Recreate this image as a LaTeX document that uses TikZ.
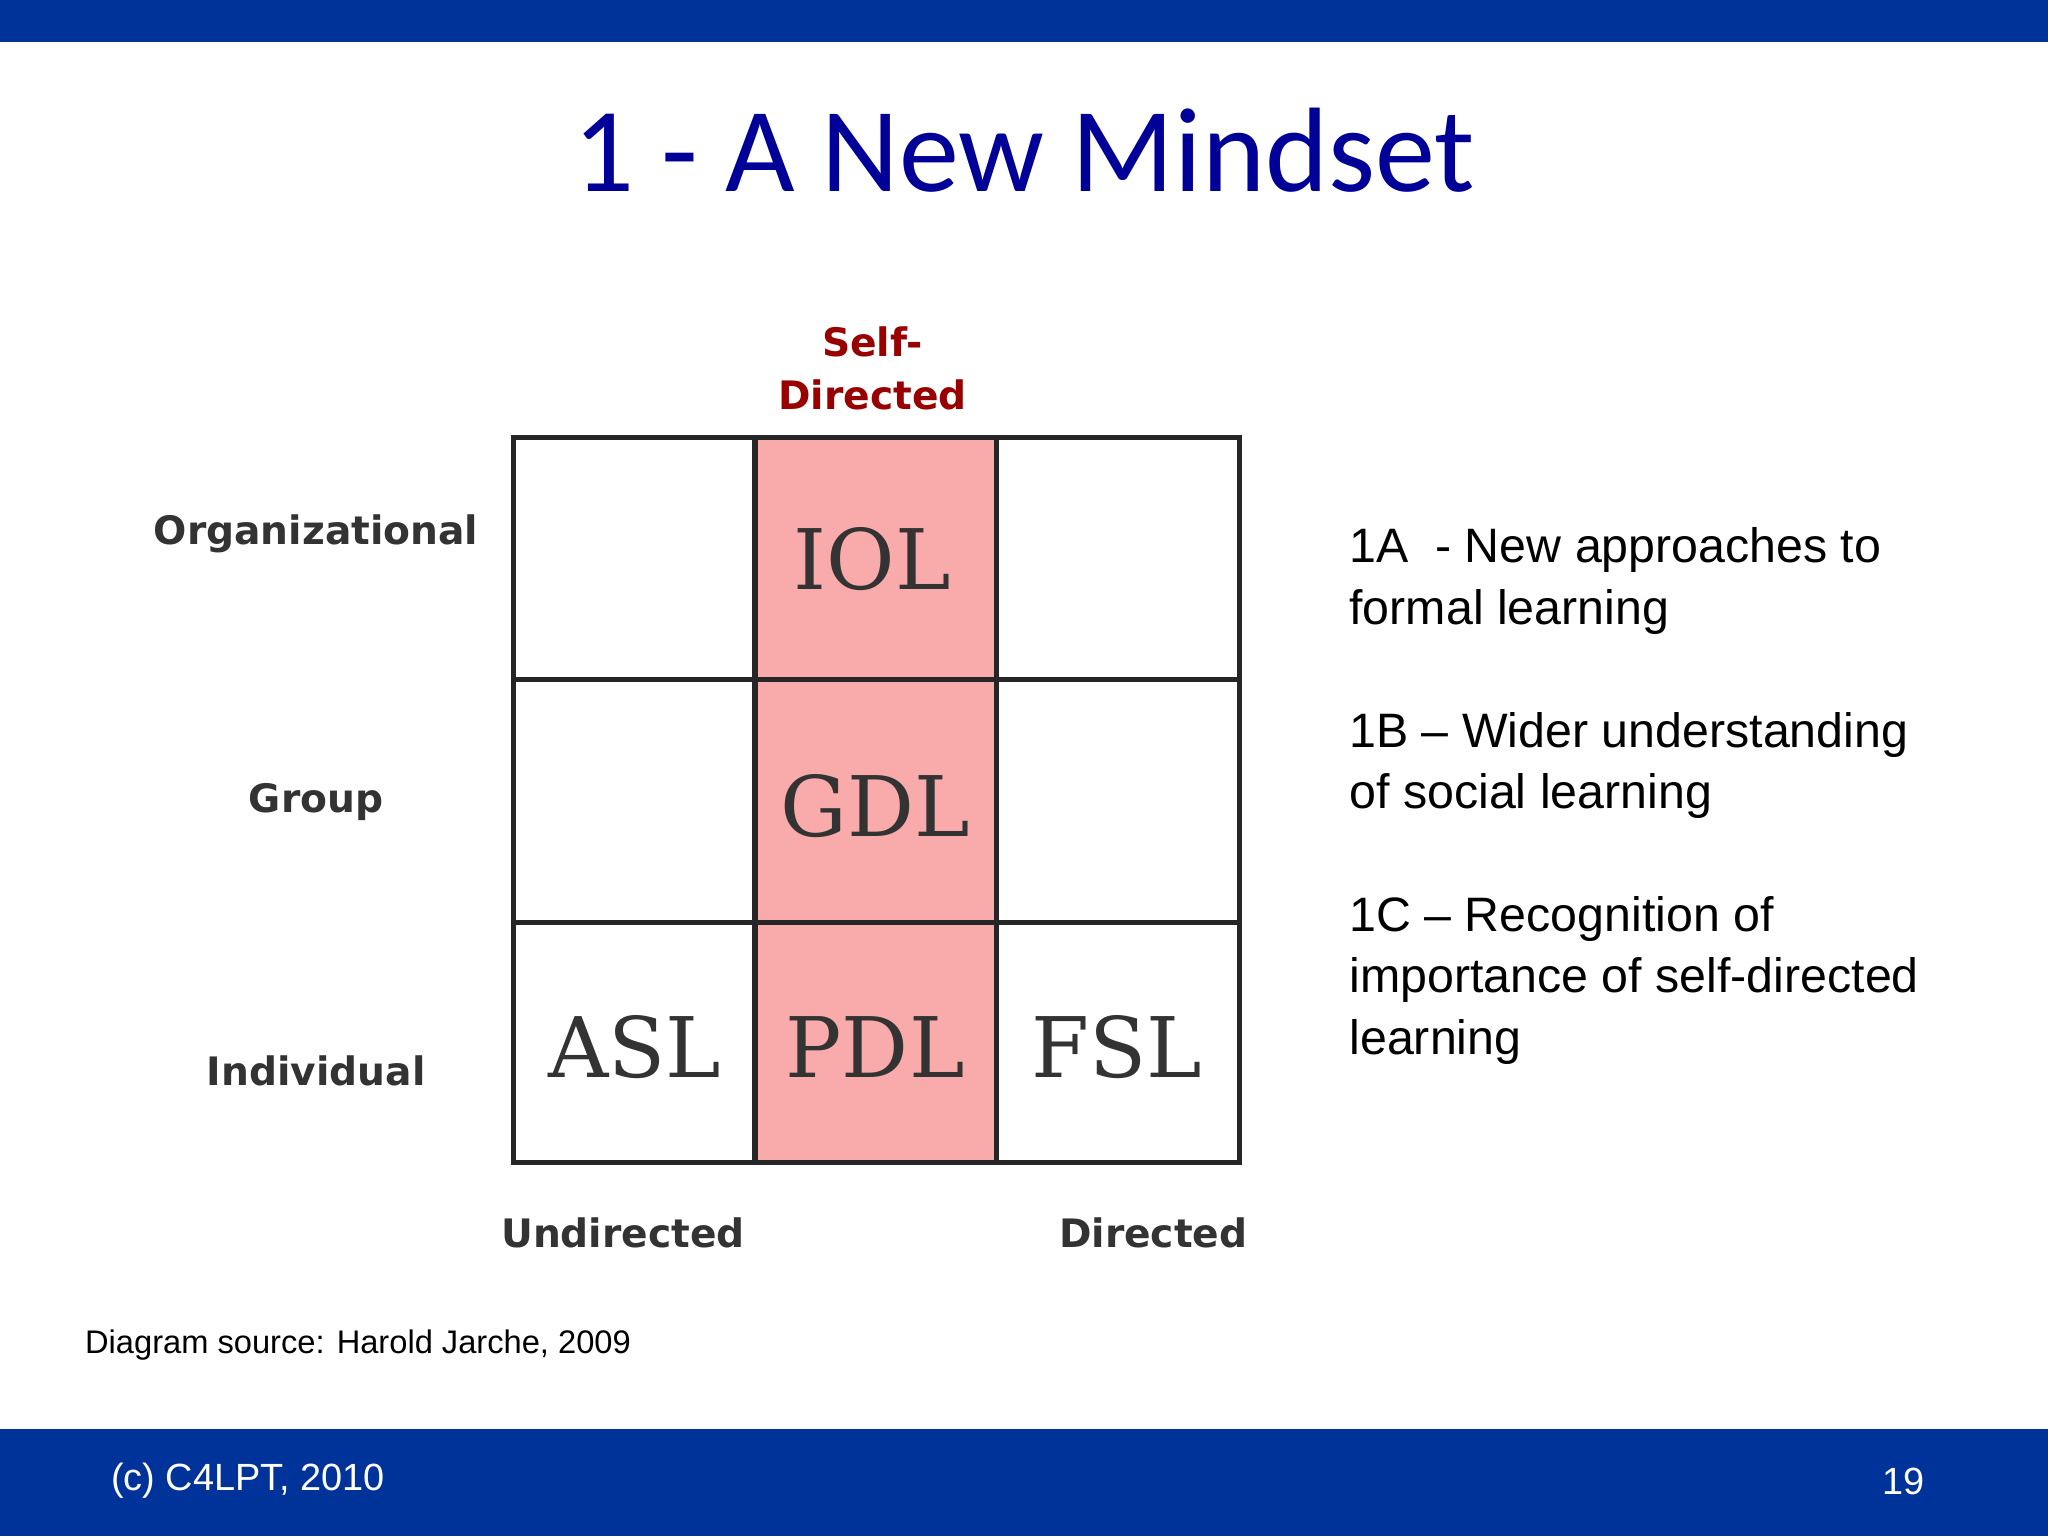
\documentclass[tikz,border=0pt]{standalone}
\usepackage{fontspec}
\setmainfont{Liberation Sans}
\newfontfamily\titlef{Carlito}
\newfontfamily\cellf{DejaVu Serif}
\newfontfamily\labf{DejaVu Sans}
\definecolor{barblue}{HTML}{003399}
\definecolor{titleblue}{HTML}{000099}
\definecolor{pinkc}{HTML}{F9AAAA}
\definecolor{dred}{HTML}{990000}
\definecolor{lgray}{HTML}{333333}
\begin{document}
\begin{tikzpicture}[x=1pt,y=-1pt,
  lab/.style={font=\labf\bfseries\fontsize{30}{36}\selectfont,text=lgray},
  cell/.style={font=\cellf\fontsize{64}{70}\selectfont,text=lgray},
  rt/.style={font=\fontsize{37}{47}\selectfont,anchor=north west,align=left,inner sep=0}]
\useasboundingbox (0,0) rectangle (1568,1176);
\fill[barblue] (0,0) rectangle (1568,32);
\fill[barblue] (0,1094) rectangle (1568,1176);
\node[font=\titlef\fontsize{92}{100}\selectfont,text=titleblue] (title) at (784,115) {1 - A New Mindset};
\fill[pinkc] (578,335) rectangle (763,890);
\draw[line width=4pt,draw=black!85] (393,335) rectangle (949,890);
\foreach \x in {578,763} \draw[line width=4pt,draw=black!85] (\x,335) -- (\x,890);
\foreach \y in {520,706} \draw[line width=4pt,draw=black!85] (393,\y) -- (949,\y);
\node[cell] (iol) at (668,428) {IOL};
\node[cell] (gdl) at (670,617) {GDL};
\node[cell] (asl) at (486,802) {ASL};
\node[cell] (pdl) at (670,802) {PDL};
\node[cell] (fsl) at (855,802) {FSL};
\node[lab,text=dred,align=center,font=\labf\bfseries\fontsize{30}{40}\selectfont] (sd) at (668,282) {Self-\\Directed};
\node[lab] (org) at (242,409) {Organizational};
\node[lab] (grp) at (242,614) {Group};
\node[lab] (ind) at (242,820) {Individual};
\node[lab] (und) at (477,944) {Undirected};
\node[lab] (dir) at (883,944) {Directed};
\node[rt] (a) at (1033,404) {1A\ \ - New approaches to\\formal learning};
\node[rt] (b) at (1033,545) {1B – Wider understanding\\of social learning};
\node[rt] (c) at (1033,686) {1C – Recognition of\\importance of self-directed\\learning};
\node[anchor=west,font=\fontsize{25}{30}\selectfont,inner sep=0] (src) at (65,1030) {Diagram source: Harold Jarche, 2009};
\node[anchor=west,font=\fontsize{29}{34}\selectfont,text=white,inner sep=0] (copy) at (85,1134) {(c) C4LPT, 2010};
\node[anchor=east,font=\fontsize{29}{34}\selectfont,text=white,inner sep=0] (num) at (1474,1134) {19};
\end{tikzpicture}
\end{document}
